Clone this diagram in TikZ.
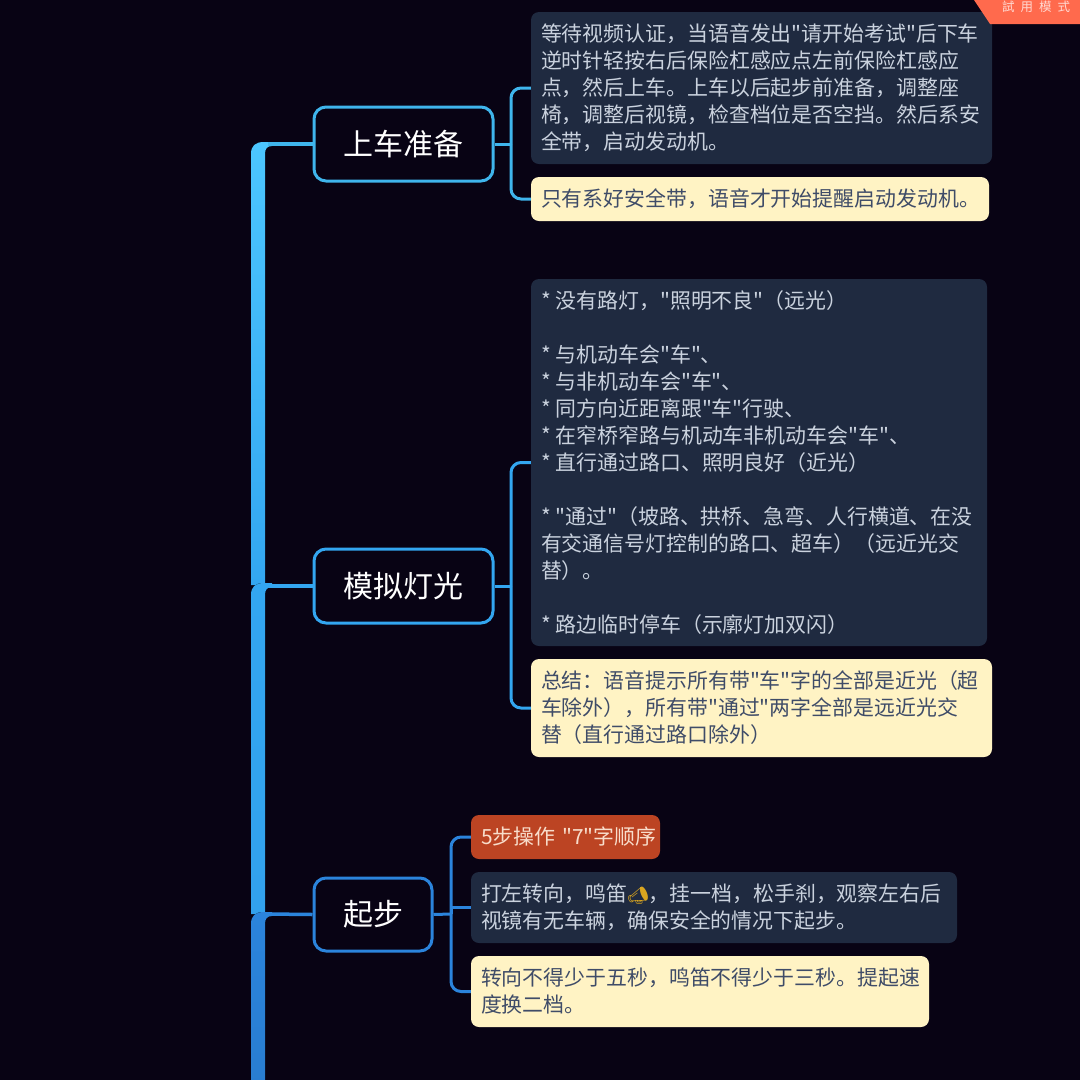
\documentclass[tikz,border=0pt]{standalone}
\usepackage{fontspec}
\newfontfamily\cjkf{Noto Sans CJK SC}
\newfontfamily\tcfont{Noto Sans CJK TC}
\newfontfamily\emojifont{Noto Emoji}
\usetikzlibrary{calc}
\definecolor{bgc}{HTML}{080314}
\definecolor{darkbox}{HTML}{1F2A40}
\definecolor{darktxt}{HTML}{CAD2DE}
\definecolor{yelbox}{HTML}{FFF3C4}
\definecolor{yeltxt}{HTML}{3F4C68}
\definecolor{redbox}{HTML}{BC4423}
\definecolor{redtxt}{HTML}{F8DDCB}
\definecolor{ribbon}{HTML}{FF6A4D}
\definecolor{cA}{HTML}{3FB5EC}
\definecolor{cB}{HTML}{33A6F0}
\definecolor{cC}{HTML}{2B84DC}
\definecolor{cTop}{HTML}{4CC6FF}
\definecolor{goldc}{HTML}{D9A520}
\tikzset{
  x=1pt,y=-1pt,
  anybox/.style 2 args={rectangle,rounded corners=8pt,inner xsep=10pt,inner ysep=0pt,
    text width=#1pt-20pt,minimum height=#2pt,align=left,
    font=\cjkf\fontsize{20.9}{27}\selectfont},
  dbox/.style 2 args={anybox={#1}{#2},fill=darkbox,text=darktxt},
  ybox/.style 2 args={anybox={#1}{#2},fill=yelbox,text=yeltxt},
  rbox/.style 2 args={anybox={#1}{#2},fill=redbox,text=redtxt},
  topic/.style n args={3}{rectangle,rounded corners=12pt,draw=#3,line width=3pt,fill=bgc,
    text=white,inner sep=0pt,minimum width=#1pt,minimum height=#2pt,
    font=\cjkf\fontsize{30}{36}\selectfont},
  link/.style={line width=3pt,rounded corners=10pt},
  arm/.style={line width=3.5pt},
}
\newcommand{\trunkseg}[4]{% top y, bottom y, top colour, bottom colour
  \fill[top color=#3,bottom color=#4,shading angle=0]
    (251,#2) -- (251,#1+12) .. controls (251,#1+4) and (255,#1) .. (264,#1)
    -- (272,#1) -- (272,#1+4) .. controls (267,#1+4) and (265,#1+7) .. (265,#1+12) -- (265,#2) -- cycle;
}
\newcommand{\nl}{\\\relax}
\newcommand{\stt}{*\hspace{5pt}}
\begin{document}
\begin{tikzpicture}
\useasboundingbox (0,0) rectangle (1080,1080);
\fill[bgc] (0,0) rectangle (1080,1080);

% trunk
\trunkseg{142}{585}{cTop}{cB}
\trunkseg{583}{914}{cB}{cB!85!cC}
\trunkseg{912}{1080}{cC}{cC!95!black}

% topics
\node[topic={179}{74}{cA}] (t1) at (403.5,144) {上车准备};
\node[topic={179}{74}{cB}] (t2) at (403.5,586) {模拟灯光};
\node[topic={118}{73}{cC}] (t3) at (373,914.5) {起步};

% content boxes
\node[dbox={461}{152}] (b1) at (761.5,88) {等待视频认证，当语音发出"请开始考试"后下车\nl 逆时针轻按右后保险杠感应点左前保险杠感应\nl 点，然后上车。上车以后起步前准备，调整座\nl 椅，调整后视镜，检查档位是否空挡。然后系安\nl 全带，启动发动机。};
\node[ybox={458}{44}] (b2) at (760,199) {只有系好安全带，语音才开始提醒启动发动机。};
\node[dbox={456}{367}] (b3) at (759,462.5) {\stt 没有路灯，"照明不良"（远光）\nl ~\nl \stt 与机动车会"车"、\nl \stt 与非机动车会"车"、\nl \stt 同方向近距离跟"车"行驶、\nl \stt 在窄桥窄路与机动车非机动车会"车"、\nl \stt 直行通过路口、照明良好（近光）\nl ~\nl \stt "通过"（坡路、拱桥、急弯、人行横道、在没\nl 有交通信号灯控制的路口、超车）（远近光交\nl 替）。\nl ~\nl \stt 路边临时停车（示廓灯加双闪）};
\node[ybox={461}{98}] (b4) at (761.5,708) {总结：语音提示所有带"车"字的全部是近光（超\nl 车除外），所有带"通过"两字全部是远近光交\nl 替（直行通过路口除外）};
\node[rbox={189}{44}] (b5) at (565.5,837) {5步操作~"7"字顺序};
\node[dbox={486}{71}] (b6) at (714,907.5) {打左转向，鸣笛{\emojifont\fontsize{17}{27}\selectfont\textcolor{goldc}{📣}}，挂一档，松手刹，观察左右后\nl 视镜有无车辆，确保安全的情况下起步。};
\node[ybox={458}{71}] (b7) at (700,991.5) {转向不得少于五秒，鸣笛不得少于三秒。提起速\nl 度换二档。};

% trunk arms
\coordinate (a1) at (268,144);
\coordinate (a2) at (268,586);
\coordinate (a3) at (268,914);
\draw[arm,cA] (a1) -- (t1.west);
\draw[arm,cB] (a2) -- (t2.west);
\draw[arm,cC] (a3) -- (t3.west);

% brackets
\coordinate (s1) at (511,144);
\coordinate (s2) at (511,586);
\coordinate (s3) at (451,914);
\draw[link,cA] (t1.east) -- (s1);
\draw[link,cA] (s1) |- (b1.west);
\draw[link,cA] (s1) |- (b2.west);
\draw[link,cB] (t2.east) -- (s2);
\draw[link,cB] (s2) |- (b3.west);
\draw[link,cB] (s2) |- (b4.west);
\draw[link,cC] (t3.east) -- (s3);
\draw[link,cC] (s3) |- (b5.west);
\draw[link,cC,rounded corners=0pt] (s3) |- (b6.west);
\draw[link,cC] (s3) |- (b7.west);

% ribbon
\fill[ribbon] (974,0) -- (990,24) -- (1080,24) -- (1080,0) -- cycle;
\node[text=white,opacity=.75,inner sep=0pt,font=\tcfont\fontsize{12.5}{14}\selectfont] (rb) at (1036,7) {試\hspace{6pt}用\hspace{6pt}模\hspace{6pt}式};
\end{tikzpicture}
\end{document}
